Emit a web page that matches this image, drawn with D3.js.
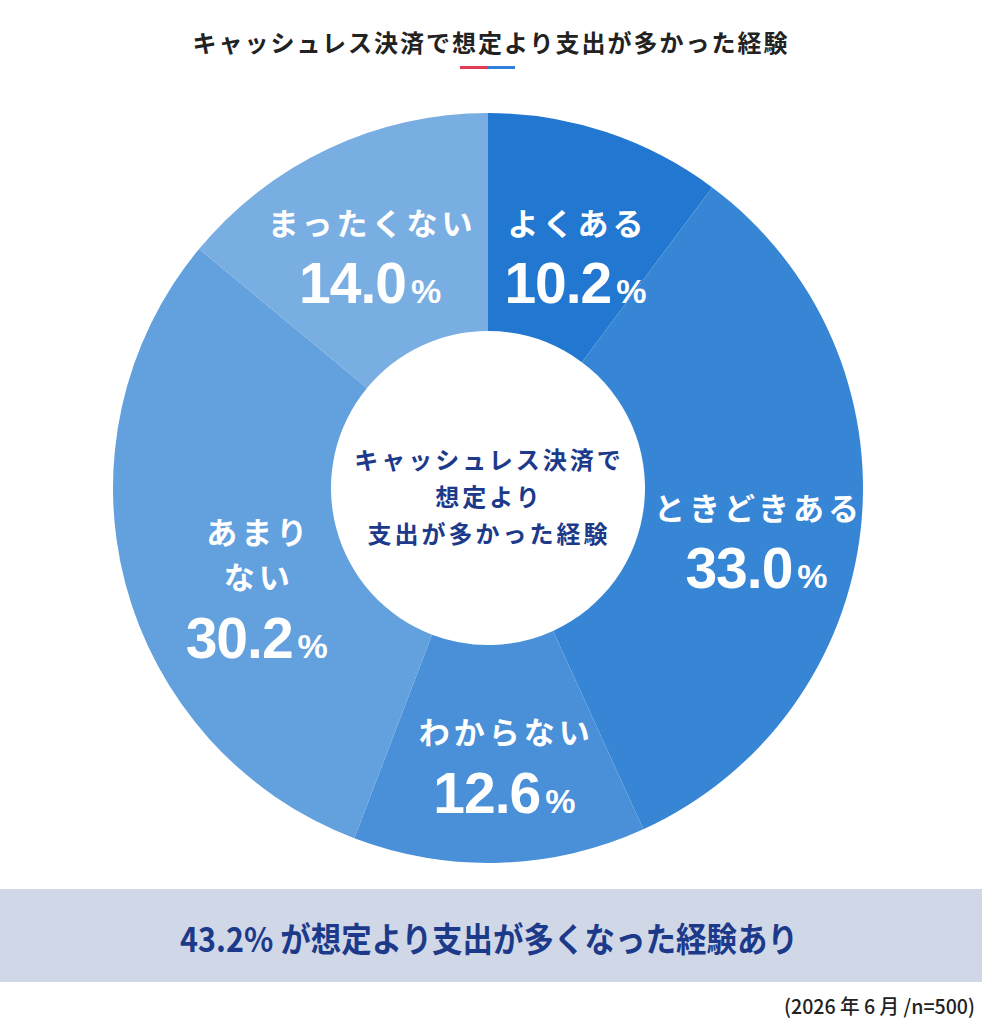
<!DOCTYPE html>
<html>
<head>
<meta charset="utf-8">
<script src="https://cdn.jsdelivr.net/npm/d3@7"></script>
<style>
  html, body { margin: 0; padding: 0; background: #fff; }
  svg { display: block; }
</style>
</head>
<body>
<div id="chart"></div>
<script>
// data
var categories = ["よくある", "ときどきある", "わからない", "あまりない", "まったくない"];
var values = [10.2, 33.0, 12.6, 30.2, 14.0];
// label lines (あまりない breaks over two lines)
var labelLines = [["よくある"], ["ときどきある"], ["わからない"], ["あまり", "ない"], ["まったくない"]];
var colors = ["#2277d1", "#3786d5", "#4a90d8", "#62a1de", "#79aee2"];
// small hand nudges from the centroid, the way the original is laid out
var labelNudge = [[4, 25], [5, 30], [8, 18], [25, 60], [-5, 13]];

var title = "キャッシュレス決済で想定より支出が多かった経験";
var centerLines = ["キャッシュレス決済で", "想定より", "支出が多かった経験"];
var summary = "43.2% が想定より支出が多くなった経験あり";
var note = "(2026 年 6 月 /n=500)";

var W = 982, H = 1024;
var cx = 488, cy = 488;
var outerR = 375, innerR = 157, labelR = 265;

var jp = "'Noto Sans CJK JP', 'Noto Sans', sans-serif";
var num = "'Liberation Sans', Arial, sans-serif";

var svg = d3.select("#chart")
  .append("svg")
  .attr("width", W)
  .attr("height", H)
  .attr("viewBox", "0 0 " + W + " " + H);

// title
svg.append("text")
  .attr("x", 491)
  .attr("y", 41)
  .attr("text-anchor", "middle")
  .attr("dominant-baseline", "central")
  .style("font-family", jp)
  .style("font-weight", 700)
  .style("font-size", "24px")
  .style("letter-spacing", "2px")
  .style("fill", "#222")
  .text(title);

// red / blue rule under the title
svg.append("rect").attr("x", 460).attr("y", 66).attr("width", 28).attr("height", 3).attr("fill", "#e23a55");
svg.append("rect").attr("x", 488).attr("y", 66).attr("width", 27).attr("height", 3).attr("fill", "#2f80db");

// donut
var pie = d3.pie().sort(null).value(function(d) { return d; });
var arcs = pie(values);

var arc = d3.arc().innerRadius(innerR).outerRadius(outerR);
var labelArc = d3.arc().innerRadius(labelR).outerRadius(labelR);

var g = svg.append("g").attr("transform", "translate(" + cx + "," + cy + ")");

g.selectAll("path.slice")
  .data(arcs)
  .enter()
  .append("path")
  .attr("class", "slice")
  .attr("d", arc)
  .attr("fill", function(d, i) { return colors[i]; });

// slice labels
var lab = g.selectAll("g.lab")
  .data(arcs)
  .enter()
  .append("g")
  .attr("class", "lab")
  .attr("transform", function(d, i) {
    var c = labelArc.centroid(d);
    return "translate(" + (c[0] + labelNudge[i][0]) + "," + (c[1] + labelNudge[i][1]) + ")";
  });

lab.each(function(d, i) {
  var el = d3.select(this);
  var lines = labelLines[i];
  var n = lines.length;
  lines.forEach(function(t, j) {
    el.append("text")
      .attr("x", 2)
      .attr("y", -40 - (n - 1 - j) * 45)
      .attr("text-anchor", "middle")
      .attr("dominant-baseline", "central")
      .style("font-family", jp)
      .style("font-weight", 700)
      .style("font-size", "31px")
      .style("letter-spacing", "4px")
      .style("fill", "#fff")
      .text(t);
  });

  var v = el.append("text")
    .attr("x", 0)
    .attr("y", 42)
    .attr("text-anchor", "middle")
    .style("font-family", num)
    .style("font-weight", 700)
    .style("fill", "#fff");
  v.append("tspan")
    .style("font-size", "57px")
    .style("letter-spacing", "-1px")
    .text(d3.format(".1f")(values[i]));
  v.append("tspan")
    .attr("dx", 5)
    .style("font-size", "34px")
    .text("%");
});

// centre text
centerLines.forEach(function(t, j) {
  svg.append("text")
    .attr("x", cx + 1)
    .attr("y", 458 + j * 37)
    .attr("text-anchor", "middle")
    .attr("dominant-baseline", "central")
    .style("font-family", jp)
    .style("font-weight", 700)
    .style("font-size", "24px")
    .style("letter-spacing", "3px")
    .style("fill", "#1d3a8a")
    .text(t);
});

// summary band
svg.append("rect")
  .attr("x", 0)
  .attr("y", 889)
  .attr("width", W)
  .attr("height", 93)
  .attr("fill", "#d0d8e8");

svg.append("text")
  .attr("x", 180)
  .attr("y", 937)
  .attr("dominant-baseline", "central")
  .attr("textLength", 618)
  .attr("lengthAdjust", "spacingAndGlyphs")
  .style("font-family", jp)
  .style("font-weight", 700)
  .style("font-size", "34px")
  .style("fill", "#1d3a8a")
  .text(summary);

// footnote
svg.append("text")
  .attr("x", 784)
  .attr("y", 1005)
  .attr("dominant-baseline", "central")
  .attr("textLength", 191)
  .attr("lengthAdjust", "spacingAndGlyphs")
  .style("font-family", jp)
  .style("font-weight", 500)
  .style("font-size", "20px")
  .style("fill", "#222")
  .text(note);
</script>
</body>
</html>
